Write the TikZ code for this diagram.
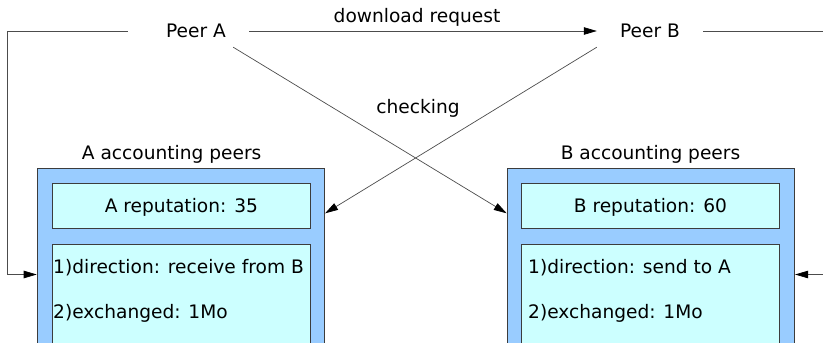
\documentclass[tikz,border=0pt]{standalone}
\usepackage{fontspec}
\setmainfont{DejaVu Sans}
\usetikzlibrary{arrows.meta,calc}
\definecolor{outerblue}{RGB}{153,204,255}
\definecolor{innercyan}{RGB}{204,255,255}
\definecolor{edgegray}{RGB}{60,60,60}
\begin{document}
\begin{tikzpicture}[x=1pt,y=-1pt,
  font=\fontsize{18.6}{22}\selectfont,
  peer/.style={inner sep=0pt, minimum width=106pt, minimum height=32pt, text height=13pt, text depth=0pt},
  label/.style={inner sep=0pt, anchor=base},
  line/.style={inner sep=0pt, anchor=base west},
  outerbox/.style={draw=edgegray, fill=outerblue, line width=0.8pt, anchor=north west, inner sep=0pt},
  innerbox/.style={draw=edgegray, fill=innercyan, line width=0.8pt, anchor=north west, inner sep=0pt},
  repbox/.style={innerbox, minimum width=257.4pt, minimum height=45pt, text height=13pt, text depth=0pt},
  conn/.style={draw=black!70, line width=0.7pt},
  tip/.style={-{Triangle[length=13pt,width=7.5pt,black]}}]
\useasboundingbox (0,0) rectangle (823,343);
\clip (0,0) rectangle (823,343);

% peers
\node[peer] (pa) at (196,31) {Peer A};
\node[peer] (pb) at (650,31) {Peer B};
\node[label] (dl) at (417,22.5) {download request};
\node[label] (chk) at (418,113) {checking};

% accounting tables
\node[label] (ta) at (171.7,159.3) {A accounting peers};
\node[label] (tb) at (650.5,159.3) {B accounting peers};

\node[outerbox, minimum width=287.6pt, minimum height=240pt] (boxA) at (36.7,168.3) {};
\node[outerbox, minimum width=287.6pt, minimum height=240pt] (boxB) at (506.7,168.3) {};

\node[repbox] (arep) at (52.3,183.3) {A reputation: 35};
\node[repbox] (brep) at (521.3,183.3) {B reputation: 60};

\node[innerbox, minimum width=257.4pt, minimum height=200pt] (adet) at (52.3,243.7) {};
\node[innerbox, minimum width=257.4pt, minimum height=200pt] (bdet) at (521.3,243.7) {};

\node[line] (a1) at (53,273.5) {1)direction: receive from B};
\node[line] (a2) at (53,318.5) {2)exchanged: 1Mo};
\node[line] (b1) at (528,273.5) {1)direction: send to A};
\node[line] (b2) at (528,318.5) {2)exchanged: 1Mo};

% arrow end points on the table borders
\coordinate (ainA) at ($(boxA.north west)+(0,106.2)$);
\coordinate (ainB) at ($(boxB.north east)+(0,106.2)$);
\coordinate (chkA) at ($(boxA.north east)+(0,45)$);
\coordinate (chkB) at ($(boxB.north west)+(0,45)$);
\coordinate (aloop) at (7,31);
\coordinate (bloop) at (840,31);

% connectors
\draw[conn,tip] (pa.east) -- (pb.west);
\draw[conn,tip,shorten <=15pt] (pa.west) -- (aloop) |- (ainA);
\draw[conn,tip] (pb.east) -- (bloop) |- (ainB);
\draw[conn,tip] ([xshift=-16pt]pa.south east) -- (chkB);
\draw[conn,tip] (pb.south west) -- (chkA);
\end{tikzpicture}
\end{document}
